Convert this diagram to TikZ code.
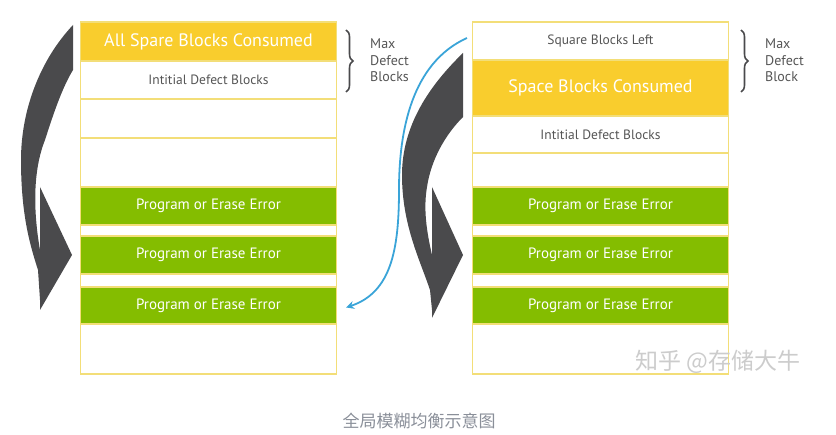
\documentclass[tikz,border=0pt]{standalone}
\usepackage{fontspec}
\setmainfont{PT Sans}
\newfontfamily\cjk{Noto Sans CJK SC}
\usetikzlibrary{arrows.meta,decorations.pathreplacing}
\definecolor{spare}{HTML}{F9CD2D}
\definecolor{errgreen}{HTML}{84BD00}
\definecolor{rim}{HTML}{F3DE78}
\definecolor{darkarrow}{HTML}{4A4A4C}
\definecolor{flowblue}{HTML}{3AA4D8}
\definecolor{labelgrey}{HTML}{555555}
\definecolor{capgrey}{HTML}{8A8F99}

\begin{document}
\begin{tikzpicture}[x=1pt,y=-1pt,
  every node/.style={inner sep=0pt},
  blk/.style={draw=rim, line width=1.2pt, minimum width=256pt, fill=white,
    text=labelgrey, font=\fontsize{13.5}{15}\selectfont},
  spareblk/.style={blk, fill=spare, text=white, font=\fontsize{18}{20}\selectfont},
  errblk/.style={blk, fill=errgreen, text=white, font=\fontsize{15}{17}\selectfont},
  sidenote/.style={align=left, anchor=north west, text=labelgrey,
    font=\fontsize{14}{16.5}\selectfont},
  bigarrow/.style={fill=darkarrow},
  brc/.style={draw=darkarrow, line width=1.6pt, decorate,
    decoration={brace, amplitude=7pt}},
  flow/.style={draw=flowblue, line width=1.8pt, -{Stealth[length=8pt,width=8pt]}}
]
\useasboundingbox (0,0) rectangle (836,435);

% grey turn arrows
\fill[bigarrow] (73,25) .. controls (40,60) and (21,110) .. (21,160)
  .. controls (21,215) and (30,245) .. (38,270) -- (40,300) -- (40,250)
  .. controls (33,210) and (33,170) .. (45,140)
  .. controls (53,115) and (62,88) .. (73,70) -- cycle;
\fill[bigarrow] (40,187) -- (72,255) -- (40,310) -- cycle;
\fill[bigarrow] (463,53) .. controls (430,85) and (402,125) .. (402,175)
  .. controls (402,225) and (420,260) .. (430,290) -- (432,310) -- (432,255)
  .. controls (425,225) and (424,205) .. (427,187)
  .. controls (431,160) and (445,135) .. (463,117) -- cycle;
\fill[bigarrow] (432,187) -- (463,255) -- (432,318) -- cycle;

% left column
\draw[draw=rim, line width=1.2pt] (80.5,22) rectangle (336.5,374);
\node[spareblk, minimum height=39pt] (l1) at (208.5,41.5) {All Spare Blocks Consumed};
\node[blk, minimum height=38pt] (l2) at (208.5,80) {Intitial Defect Blocks};
\node[blk, minimum height=39pt] (l3) at (208.5,118.5) {};
\node[blk, minimum height=49pt] (l4) at (208.5,162.5) {};
\node[errblk, minimum height=38pt] (l5) at (208.5,206) {Program or Erase Error};
\node[errblk, minimum height=38pt] (l6) at (208.5,255) {Program or Erase Error};
\node[errblk, minimum height=37pt] (l7) at (208.5,305.5) {Program or Erase Error};
\node[blk, minimum height=50pt] (l8) at (208.5,349) {};

% right column
\draw[draw=rim, line width=1.2pt] (472.5,22) rectangle (728.5,374);
\node[blk, minimum height=38pt] (r1) at (600.5,41) {Square Blocks Left};
\node[spareblk, minimum height=56pt] (r2) at (600.5,88) {Space Blocks Consumed};
\node[blk, minimum height=37pt] (r3) at (600.5,134.5) {Intitial Defect Blocks};
\node[blk, minimum height=34pt] (r4) at (600.5,170) {};
\node[errblk, minimum height=38pt] (r5) at (600.5,206) {Program or Erase Error};
\node[errblk, minimum height=38pt] (r6) at (600.5,255) {Program or Erase Error};
\node[errblk, minimum height=37pt] (r7) at (600.5,305.5) {Program or Erase Error};
\node[blk, minimum height=50pt] (r8) at (600.5,349) {};

% braces
\draw[brc] (346,30) -- (346,92);
\node[sidenote] (lmax) at (370,39) {Max\\Defect\\Blocks};
\draw[brc] (741,30) -- (741,92);
\node[sidenote] (rmax) at (765,39) {Max\\Defect\\Block};

% wear-levelling move
\coordinate (bend) at (399,190);
\draw[flow] ([xshift=-5pt,yshift=3pt]r1.west) .. controls +(-55,25) and +(0,-60) .. (bend)
  .. controls +(0,60) and +(45,-15) .. ([xshift=9pt,yshift=-2pt]l7.east);

\node[font=\cjk\fontsize{23}{23}\selectfont, text=gray!40] (mark) at (718,362) {知乎 @存储大牛};
\node[font=\cjk\fontsize{17}{17}\selectfont, text=capgrey] (caption) at (419,421) {全局模糊均衡示意图};
\end{tikzpicture}
\end{document}
